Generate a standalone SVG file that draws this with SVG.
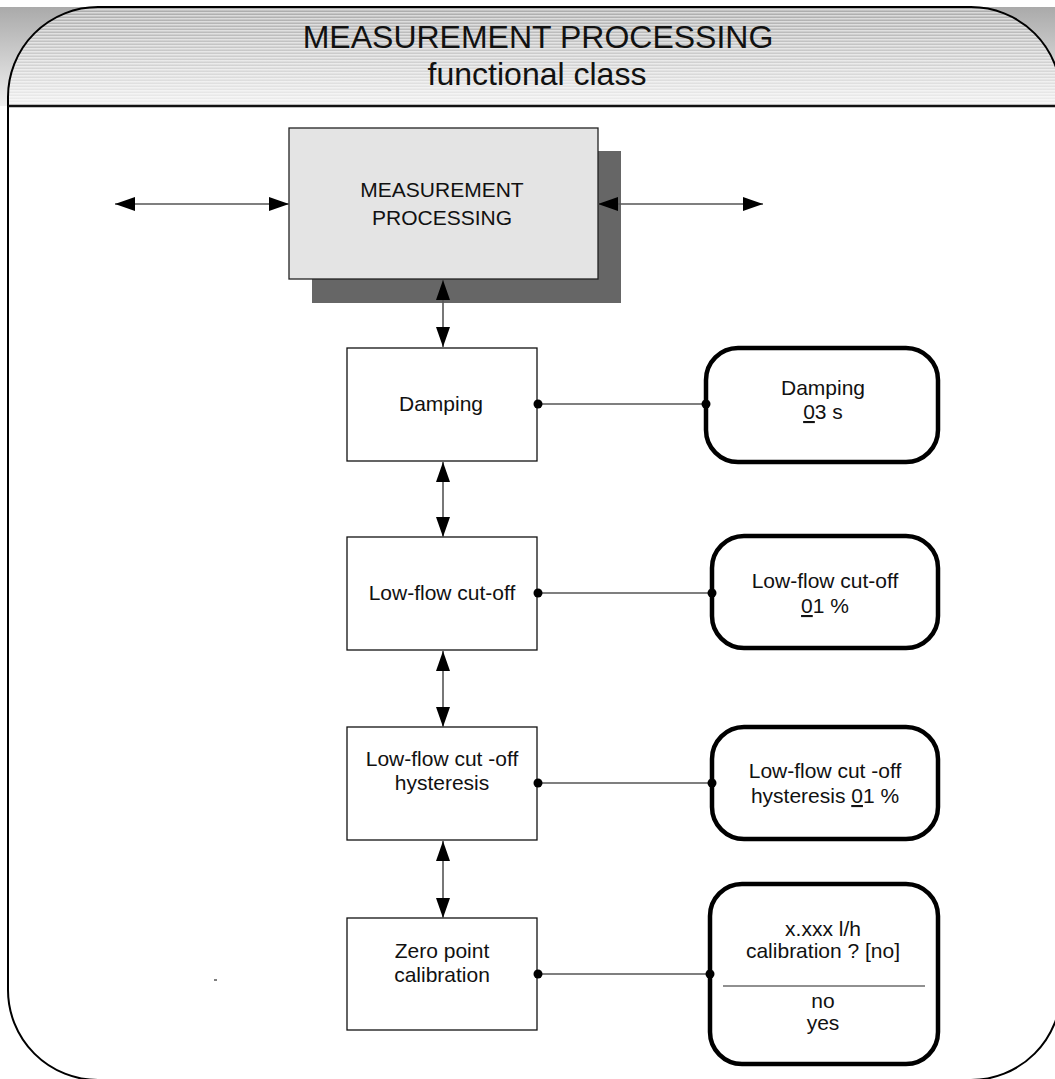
<svg xmlns="http://www.w3.org/2000/svg" width="1055" height="1079" viewBox="0 0 1055 1079">
<style>
text{font-family:"Liberation Sans",Arial,sans-serif;fill:#111;text-anchor:middle;font-size:21px}
.box{fill:#fff;stroke:#111;stroke-width:1.3}
.rbox{fill:#fff;stroke:#000;stroke-width:4.5}
.conn{stroke:#555;stroke-width:1.6;fill:none}
.arr{marker-start:url(#ah);marker-end:url(#ah)}
.dot{fill:#000}
.title{font-size:32px}
</style>
<defs>
<linearGradient id="hg" x1="0" y1="0" x2="0" y2="1">
<stop offset="0" stop-color="#aaaaaa"/>
<stop offset="1" stop-color="#f0f0f0"/>
</linearGradient>
<pattern id="stripes" patternUnits="userSpaceOnUse" width="10" height="3">
<rect x="0" y="0" width="10" height="1.5" fill="#fff" fill-opacity="0.55"/>
</pattern>
<clipPath id="fclip">
<path d="M8,97 A90,90 0 0 1 98,7 L971,7 A90,90 0 0 1 1061,97 L1061,990 A90,90 0 0 1 971,1080 L98,1080 A90,90 0 0 1 8,990 Z"/>
</clipPath>
<marker id="ah" viewBox="0 0 20 14" refX="20" refY="7" markerWidth="20" markerHeight="14" markerUnits="userSpaceOnUse" orient="auto-start-reverse">
<path d="M0,0 L20,7 L0,14 Z" fill="#000"/>
</marker>
</defs>

<g id="frame">
<rect x="0" y="7" width="1055" height="99" fill="url(#hg)"/>
<rect x="0" y="7" width="1061" height="99" fill="url(#stripes)" clip-path="url(#fclip)"/>
<path d="M8,97 A90,90 0 0 1 98,7 L971,7 A90,90 0 0 1 1061,97 L1061,990 A90,90 0 0 1 971,1080 L98,1080 A90,90 0 0 1 8,990 Z" fill="none" stroke="#000" stroke-width="2"/>
<line x1="8" y1="106" x2="1061" y2="106" stroke="#111" stroke-width="2.5"/>
<text x="538" y="48" class="title">MEASUREMENT PROCESSING</text>
<text x="537" y="85" class="title">functional class</text>
<line x1="214" y1="980" x2="217" y2="980" stroke="#000" stroke-width="1"/>
</g>

<g id="main">
<rect x="312" y="151" width="309" height="152" fill="#666"/>
<rect x="289" y="128" width="309" height="151" fill="#e4e4e4" stroke="#222" stroke-width="1.3"/>
<text x="442" y="197">MEASUREMENT</text>
<text x="442" y="225">PROCESSING</text>
</g>

<g id="damping">
<rect class="box" x="347" y="348" width="190" height="113"/>
<text x="441" y="411">Damping</text>
</g>
<g id="lowflow">
<rect class="box" x="347" y="537" width="190" height="113"/>
<text x="442" y="600">Low-flow cut-off</text>
</g>
<g id="hysteresis">
<rect class="box" x="347" y="727" width="190" height="113"/>
<text x="442" y="766">Low-flow cut -off</text>
<text x="442" y="790">hysteresis</text>
</g>
<g id="zeropoint">
<rect class="box" x="347" y="918" width="190" height="112"/>
<text x="442" y="958">Zero point</text>
<text x="442" y="982">calibration</text>
</g>

<g id="damping-param">
<rect class="rbox" x="706" y="348" width="232" height="114" rx="32"/>
<text x="823" y="395">Damping</text>
<text x="823" y="419"><tspan text-decoration="underline">0</tspan>3 s</text>
</g>
<g id="lowflow-param">
<rect class="rbox" x="712" y="536" width="226" height="112" rx="32"/>
<text x="825" y="588">Low-flow cut-off</text>
<text x="825" y="613"><tspan text-decoration="underline">0</tspan>1 %</text>
</g>
<g id="hysteresis-param">
<rect class="rbox" x="712" y="727" width="226" height="112" rx="32"/>
<text x="825" y="778">Low-flow cut -off</text>
<text x="825" y="803">hysteresis <tspan text-decoration="underline">0</tspan>1 %</text>
</g>
<g id="zeropoint-param">
<rect class="rbox" x="710" y="884" width="228" height="180" rx="32"/>
<text x="823" y="936">x.xxx l/h</text>
<text x="823" y="958">calibration ? [no]</text>
<line x1="723" y1="986" x2="925" y2="986" stroke="#222" stroke-width="1.2"/>
<text x="823" y="1008">no</text>
<text x="823" y="1030">yes</text>
</g>

<g id="connectors">
<line class="conn arr" x1="115" y1="204" x2="289" y2="204"/>
<line class="conn arr" x1="598" y1="204" x2="763" y2="204"/>
<line class="conn arr" x1="443" y1="280" x2="443" y2="347"/>
<line class="conn arr" x1="443" y1="462" x2="443" y2="537"/>
<line class="conn arr" x1="443" y1="651" x2="443" y2="727"/>
<line class="conn arr" x1="443" y1="841" x2="443" y2="918"/>
<line class="conn" x1="538" y1="404" x2="706" y2="404"/>
<line class="conn" x1="538" y1="593" x2="712" y2="593"/>
<line class="conn" x1="538" y1="783" x2="712" y2="783"/>
<line class="conn" x1="538" y1="974" x2="710" y2="974"/>
<circle class="dot" cx="538" cy="404" r="4.5"/>
<circle class="dot" cx="706" cy="404" r="4.5"/>
<circle class="dot" cx="538" cy="593" r="4.5"/>
<circle class="dot" cx="712" cy="593" r="4.5"/>
<circle class="dot" cx="538" cy="783" r="4.5"/>
<circle class="dot" cx="712" cy="783" r="4.5"/>
<circle class="dot" cx="538" cy="974" r="4.5"/>
<circle class="dot" cx="710" cy="974" r="4.5"/>
</g>
</svg>
